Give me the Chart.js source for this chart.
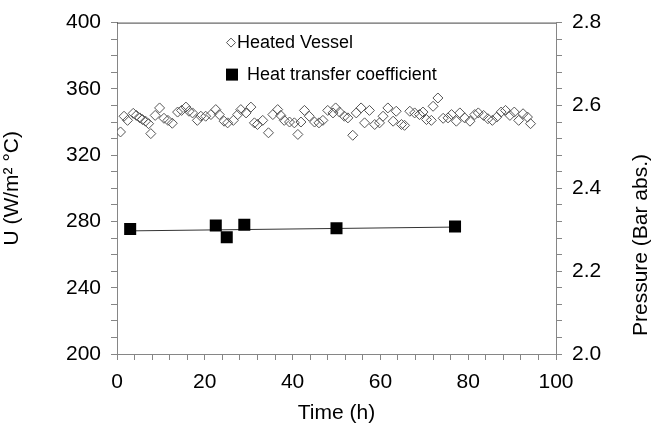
<!DOCTYPE html>
<html><head><meta charset="utf-8">
<script src="https://cdn.jsdelivr.net/npm/chart.js@4/dist/chart.umd.min.js"></script>
<style>html,body{margin:0;padding:0;background:#fff}#wrap{width:661px;height:428px}</style>
</head><body><div id="wrap"><canvas id="c" width="661" height="428"></canvas></div>
<script>
const vesselTime = [0.8,1.6,2.4,3.7,4.4,5.2,5.8,6.5,7.2,7.7,8.7,9.7,10.7,11.6,12.6,13.8,14.7,15.7,16.4,17.2,18.3,19.1,20.2,21.4,22.5,23.3,24.4,25.2,26.5,27.5,28.2,29.4,30.5,31.3,32.0,33.2,34.5,35.5,36.6,37.3,38.1,39.3,40.4,41.2,41.9,42.7,43.8,45.0,46.0,46.9,48.0,49.2,49.8,50.7,51.8,52.6,53.7,54.5,55.6,56.4,57.5,58.7,59.8,60.6,61.7,62.9,63.6,64.8,65.5,66.7,67.8,68.9,69.7,70.5,71.6,72.0,73.1,74.3,75.4,76.2,77.3,78.1,79.2,80.4,81.5,82.3,83.5,84.5,85.5,86.5,87.5,88.5,89.5,90.5,91.5,92.5,93.5,94.2];
const vesselPressure = [2.536,2.574,2.564,2.581,2.576,2.570,2.566,2.562,2.556,2.532,2.576,2.594,2.569,2.564,2.557,2.584,2.588,2.596,2.586,2.582,2.564,2.574,2.574,2.578,2.590,2.578,2.562,2.558,2.564,2.578,2.590,2.582,2.596,2.558,2.554,2.564,2.534,2.578,2.590,2.576,2.564,2.560,2.558,2.530,2.560,2.588,2.574,2.560,2.558,2.564,2.588,2.582,2.594,2.584,2.574,2.570,2.528,2.582,2.594,2.558,2.588,2.554,2.558,2.574,2.594,2.562,2.586,2.554,2.552,2.586,2.582,2.578,2.584,2.566,2.564,2.598,2.618,2.569,2.570,2.578,2.562,2.582,2.570,2.562,2.578,2.582,2.576,2.568,2.564,2.572,2.584,2.588,2.576,2.584,2.564,2.580,2.572,2.556];
const htcTime = [3, 22.5, 25, 29, 50, 77];
const htcU = [275.5, 277.5, 270.5, 278.0, 275.9, 276.9];
const trendTime = [3, 77];
const trendU = [274.3, 276.6];
const xLabels = [0, 20, 40, 60, 80, 100];
const uLabels = [200, 240, 280, 320, 360, 400];
const pLabels = [2.0, 2.2, 2.4, 2.6, 2.8];
const legendNames = ['Heated Vessel', 'Heat transfer coefficient'];
const xTitle = 'Time (h)';
const yTitle = 'U (W/m² °C)';
const y2Title = 'Pressure (Bar abs.)';

const FONT = "'Liberation Sans', Arial, sans-serif";
const AXIS = '#868686';
const isLabel = (v, list) => list.some(l => Math.abs(v - l) < 1e-6);

const boxPlugin = {
  id: 'box',
  afterDraw(chart) {
    const {ctx, chartArea: a} = chart;
    ctx.save();
    ctx.strokeStyle = '#444';
    ctx.lineWidth = 1;
    ctx.beginPath();
    ctx.moveTo(a.left, a.top + 0.5);
    ctx.lineTo(a.right, a.top + 0.5);
    ctx.stroke();
    // right title (reads bottom to top)
    ctx.fillStyle = '#000';
    ctx.font = '21px ' + FONT;
    ctx.textAlign = 'center';
    ctx.textBaseline = 'middle';
    ctx.translate(641, 245);
    ctx.rotate(-Math.PI / 2);
    ctx.fillText(y2Title, 0, 0);
    ctx.restore();
    // legend
    ctx.save();
    const lx = a.left + 114, ly1 = a.top + 20, ly2 = a.top + 52;
    ctx.strokeStyle = '#555'; ctx.lineWidth = 1;
    ctx.beginPath();
    ctx.moveTo(lx, ly1 - 4.5); ctx.lineTo(lx + 4.5, ly1); ctx.lineTo(lx, ly1 + 4.5); ctx.lineTo(lx - 4.5, ly1); ctx.closePath();
    ctx.stroke();
    ctx.fillStyle = '#000';
    ctx.fillRect(lx - 5, ly2 - 6, 12, 12);
    ctx.font = '18px ' + FONT;
    ctx.textBaseline = 'middle';
    ctx.textAlign = 'left';
    ctx.fillText(legendNames[0], lx + 6, ly1);
    ctx.fillText(legendNames[1], lx + 16, ly2);
    ctx.restore();
  }
};

new Chart(document.getElementById('c'), {
  type: 'scatter',
  data: {
    datasets: [
      {
        label: legendNames[0],
        data: vesselTime.map((t, i) => ({x: t, y: vesselPressure[i]})),
        yAxisID: 'y2',
        pointStyle: 'rectRot', pointRadius: 5, pointHoverRadius: 5,
        borderColor: '#555', backgroundColor: 'rgba(255,255,255,0)', borderWidth: 1,
        order: 2
      },
      {
        label: legendNames[1],
        data: htcTime.map((t, i) => ({x: t, y: htcU[i]})),
        yAxisID: 'y',
        pointStyle: 'rect', pointRadius: 8.5, pointHoverRadius: 8.5,
        borderColor: '#000', backgroundColor: '#000', borderWidth: 0,
        order: 1
      },
      {
        type: 'line',
        label: 'trend',
        data: trendTime.map((t, i) => ({x: t, y: trendU[i]})),
        yAxisID: 'y',
        borderColor: '#333', borderWidth: 1, pointRadius: 0, fill: false,
        order: 3
      }
    ]
  },
  options: {
    responsive: false,
    animation: false,
    devicePixelRatio: 1,
    layout: {padding: {top: 21, left: 0, right: 0, bottom: 0}},
    plugins: {legend: {display: false}, tooltip: {enabled: false}},
    scales: {
      x: {
        type: 'linear', min: 0, max: 100,
        ticks: {stepSize: 4, autoSkip: false, maxRotation: 0, color: '#000', font: {family: FONT, size: 21}, padding: 10,
          callback: v => isLabel(v, xLabels) ? String(v) : ''},
        grid: {drawOnChartArea: false, drawTicks: true, tickLength: 6, color: AXIS},
        border: {display: true, color: AXIS, width: 1},
        title: {display: true, text: xTitle, color: '#000', font: {family: FONT, size: 21}, padding: {top: 0, bottom: 2}},
        afterFit: s => { s.height = 74; }
      },
      y: {
        type: 'linear', position: 'left', min: 200, max: 400,
        ticks: {stepSize: 10, autoSkip: false, color: '#000', font: {family: FONT, size: 21}, padding: 10,
          callback: v => isLabel(v, uLabels) ? String(v) : ''},
        grid: {drawOnChartArea: false, drawTicks: true, tickLength: 6, color: AXIS},
        border: {display: true, color: AXIS, width: 1},
        title: {display: true, text: yTitle, color: '#000', font: {family: FONT, size: 21}, padding: {top: 0, bottom: 6}},
        afterFit: s => { s.width = 117; }
      },
      y2: {
        type: 'linear', position: 'right', min: 2.0, max: 2.8,
        ticks: {stepSize: 0.04, autoSkip: false, color: '#000', font: {family: FONT, size: 21}, padding: 10,
          callback: v => isLabel(v, pLabels) ? Number(v).toFixed(1) : ''},
        grid: {drawOnChartArea: false, drawTicks: true, tickLength: 6, color: AXIS},
        border: {display: true, color: AXIS, width: 1},
        afterFit: s => { s.width = 105; }
      }
    }
  },
  plugins: [boxPlugin]
});
</script>
</body></html>
